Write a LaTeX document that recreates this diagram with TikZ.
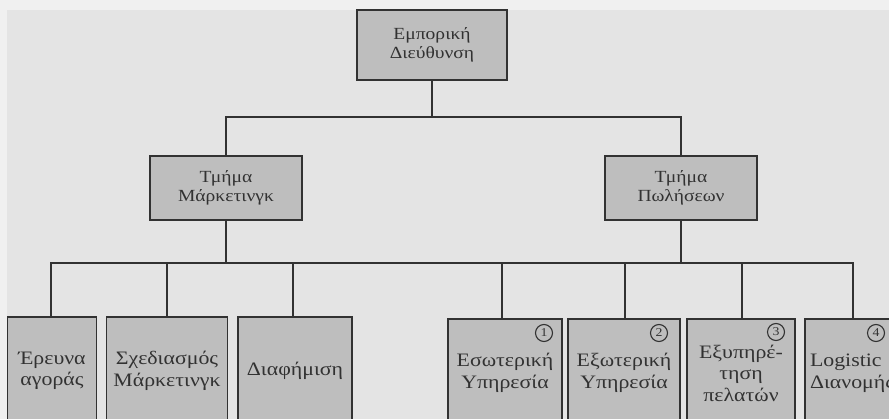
\documentclass[tikz,border=0pt]{standalone}
\usepackage{fontspec}
\setmainfont{Liberation Serif}[FakeStretch=1.15]
\definecolor{paper}{RGB}{228,228,228}
\definecolor{paperedge}{RGB}{240,240,240}
\definecolor{boxfill}{RGB}{190,190,190}
\definecolor{ink}{RGB}{50,50,50}
\tikzset{
  unit/.style={draw=ink, line width=1.3pt, fill=boxfill, inner sep=0pt,
    align=center, font=\fontsize{17}{19.5}\selectfont, text=ink},
  leaf/.style={unit, minimum height=108pt, font=\fontsize{19}{21.5}\selectfont},
  wire/.style={draw=ink, line width=1.2pt},
  badge/.style={draw=ink, line width=1.1pt, circle, inner sep=0pt, minimum size=17pt,
    font=\fontsize{12}{12}\selectfont, text=ink}
}
\begin{document}
\begin{tikzpicture}[x=1pt, y=-1pt]
  \useasboundingbox (0,0) rectangle (889,419);
  \clip (0,0) rectangle (889,419);
  \fill[paperedge] (0,0) rectangle (889,419);
  \fill[paper] (7,10) rectangle (889,419);

  % management head
  \node[unit, minimum width=150pt, minimum height=70pt] (head) at (432,45)
    {Εμπορική\\Διεύθυνση};

  % departments
  \node[unit, minimum width=152pt, minimum height=64pt] (mkt) at (226,188)
    {Τμήμα\\Μάρκετινγκ};
  \node[unit, minimum width=152pt, minimum height=64pt] (sal) at (681,188)
    {Τμήμα\\Πωλήσεων};

  % units under the departments
  \node[leaf, minimum width=89pt]  (research) at (52,371)  {Έρευνα\\αγοράς};
  \node[leaf, minimum width=121pt] (planning) at (167,371) {Σχεδιασμός\\Μάρκετινγκ};
  \node[leaf, minimum width=114pt] (adverts)  at (295,371) {Διαφήμιση};
  \node[leaf, minimum width=114pt] (inner)    at (505,373) {Εσωτερική\\Υπηρεσία};
  \node[leaf, minimum width=112pt] (outer)    at (624,373) {Εξωτερική\\Υπηρεσία};
  \node[leaf, minimum width=108pt] (service)  at (741,373) {Εξυπηρέ-\\τηση\\πελατών};
  \node[leaf, minimum width=96pt, text width=86pt, align=left] (logistic) at (853,373)
    {Logistic\\Διανομής};

  % numbered markers
  \node[badge] (b1) at (544,333) {1};
  \node[badge] (b2) at (659,333) {2};
  \node[badge] (b3) at (776,332) {3};
  \node[badge] (b4) at (876,333) {4};

  % junctions of the tree
  \coordinate (top) at (432,117);
  \coordinate (low) at (432,263);

  \draw[wire] (head.south) -- (top);
  \draw[wire] (mkt.north) |- (top);
  \draw[wire] (sal.north) |- (top);
  \draw[wire] (mkt.south) -- (mkt.south |- low);
  \draw[wire] (sal.south) -- (sal.south |- low);
  \foreach \n/\x in {research/51, planning/167, adverts/293, inner/502,
                     outer/625, service/742, logistic/853} {
    \draw[wire] (\x,0 |- \n.north) |- (low);
  }
\end{tikzpicture}
\end{document}
